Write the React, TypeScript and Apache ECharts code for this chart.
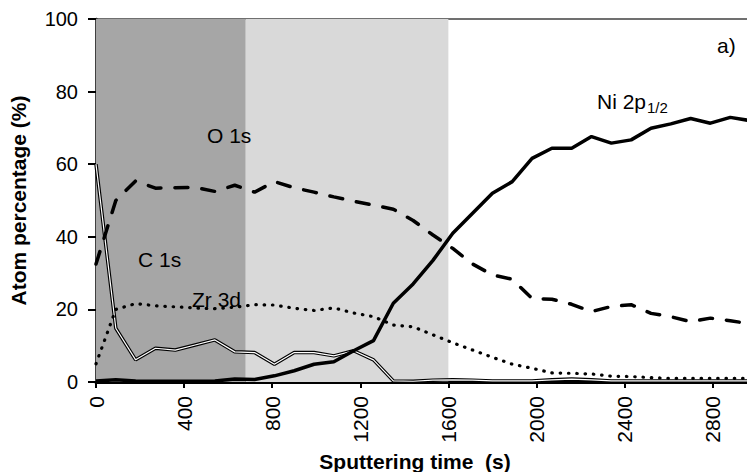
import React, { useEffect, useRef } from "react";
import * as echarts from "echarts";

const times = [0, 90, 180, 270, 360, 450, 540, 630, 720, 810, 900, 990, 1080, 1170, 1260, 1350, 1440, 1530, 1620, 1710, 1800, 1890, 1980, 2070, 2160, 2250, 2340, 2430, 2520, 2610, 2700, 2790, 2880, 2970];

const ni2p = [0.3, 0.6, 0.3, 0.2, 0.2, 0.2, 0.3, 0.8, 0.7, 1.7, 3.1, 4.9, 5.6, 8.6, 11.4, 21.7, 27.0, 33.5, 41.0, 46.5, 52.0, 55.2, 61.6, 64.4, 64.4, 67.6, 65.8, 66.7, 69.9, 71.1, 72.6, 71.3, 72.9, 72.0];
const o1s = [32.5, 50.0, 55.4, 53.4, 53.5, 53.6, 52.5, 54.2, 52.3, 55.2, 53.5, 52.3, 51.0, 49.8, 48.7, 47.6, 44.5, 40.5, 36.8, 32.5, 29.5, 28.3, 23.0, 22.8, 21.4, 19.4, 20.8, 21.3, 18.9, 18.0, 16.6, 17.6, 16.9, 16.0];
const zr3d = [5.0, 20.0, 21.6, 21.0, 20.7, 20.4, 20.2, 20.6, 21.3, 21.2, 20.3, 19.7, 20.4, 19.0, 18.0, 15.7, 15.2, 13.0, 10.8, 8.8, 6.8, 4.9, 3.8, 2.5, 2.4, 2.2, 1.6, 1.5, 1.2, 1.0, 1.0, 1.0, 1.0, 1.0];
const c1s = [60.0, 14.8, 6.1, 9.3, 8.8, 10.2, 11.6, 8.3, 8.1, 4.9, 8.1, 8.1, 7.2, 8.6, 6.1, 0.3, 0.2, 0.5, 0.6, 0.5, 0.3, 0.3, 0.3, 0.6, 0.8, 0.6, 0.3, 0.3, 0.3, 0.3, 0.3, 0.3, 0.3, 0.3];

const darkZone = [0, 680];
const lightZone = [680, 1600];
const yTicks = [0, 20, 40, 60, 80, 100];
const xTickStep = 400;

const FONT = "'Liberation Sans', Arial, sans-serif";

function pairs(vals: number[]) {
  return times.map((t, i) => [t, vals[i]]);
}

export default function App() {
  const ref = useRef<HTMLDivElement>(null);
  useEffect(() => {
    document.body.style.margin = "0";
    const chart = echarts.init(ref.current!, undefined, { renderer: "svg" });
    chart.setOption({
      animation: false,
      backgroundColor: "#ffffff",
      grid: { left: 96, right: 0, top: 19, bottom: 90, containLabel: false, outerBoundsMode: "none" },
      xAxis: [
        {
          type: "value",
          min: 0,
          max: 2956,
          interval: xTickStep,
          position: "bottom",
          name: "Sputtering time  (s)",
          nameLocation: "middle",
          nameGap: 66,
          nameTextStyle: { fontFamily: FONT, fontWeight: "bold", fontSize: 21, color: "#000", padding: [0, 13, 0, 0] },
          axisLine: { show: true, lineStyle: { color: "#000", width: 3 } },
          axisTick: { show: true, inside: false, length: 6, lineStyle: { color: "#000", width: 2 } },
          axisLabel: {
            rotate: 90,
            margin: 14,
            fontFamily: FONT,
            fontSize: 21,
            color: "#000",
            showMaxLabel: false,
            formatter: (v: number) => (v % xTickStep === 0 ? String(v) : ""),
          },
          splitLine: { show: false },
        },
        {
          type: "value",
          min: 0,
          max: 2956,
          position: "top",
          axisLine: { show: true, lineStyle: { color: "#404040", width: 1.5 } },
          axisTick: { show: false },
          axisLabel: { show: false },
          splitLine: { show: false },
        },
      ],
      yAxis: {
        type: "value",
        min: yTicks[0],
        max: yTicks[yTicks.length - 1],
        interval: 20,
        name: "Atom percentage (%)",
        nameLocation: "middle",
        nameGap: 67,
        nameTextStyle: { fontFamily: FONT, fontWeight: "bold", fontSize: 21, color: "#000" },
        axisLine: { show: true, lineStyle: { color: "#000", width: 2.5 } },
        axisTick: { show: true, inside: false, length: 8, lineStyle: { color: "#000", width: 2 } },
        axisLabel: { margin: 18, fontFamily: FONT, fontSize: 20, color: "#000" },
        splitLine: { show: false },
      },
      graphic: [
        { type: "text", x: 207, y: 135, z: 100, style: { text: "O 1s", fontFamily: FONT, fontSize: 21, fill: "#000", align: "left", verticalAlign: "middle" } },
        { type: "text", x: 138, y: 259.5, z: 100, style: { text: "C 1s", fontFamily: FONT, fontSize: 21, fill: "#000", align: "left", verticalAlign: "middle" } },
        { type: "text", x: 192, y: 299, z: 100, style: { text: "Zr 3d", fontFamily: FONT, fontSize: 21, fill: "#000", align: "left", verticalAlign: "middle" } },
        { type: "text", x: 597, y: 101, z: 100, style: { text: "Ni 2p", fontFamily: FONT, fontSize: 21, fill: "#000", align: "left", verticalAlign: "middle" } },
        { type: "text", x: 647, y: 107, z: 100, style: { text: "1/2", fontFamily: FONT, fontSize: 15, fill: "#000", align: "left", verticalAlign: "middle" } },
        { type: "text", x: 717, y: 45.5, z: 100, style: { text: "a)", fontFamily: FONT, fontSize: 21, fill: "#000", align: "left", verticalAlign: "middle" } },
      ],
      series: [
        {
          name: "zones",
          type: "line",
          data: [],
          silent: true,
          markArea: {
            silent: true,
            data: [
              [{ xAxis: darkZone[0], itemStyle: { color: "#a6a6a6" } }, { xAxis: darkZone[1] }],
              [{ xAxis: lightZone[0], itemStyle: { color: "#d9d9d9" } }, { xAxis: lightZone[1] }],
            ],
          },
          z: 1,
        },
        {
          name: "C 1s outer",
          type: "line",
          data: pairs(c1s),
          showSymbol: false,
          symbol: "none",
          lineStyle: { color: "#000", width: 3.5 },
          z: 3,
        },
        {
          name: "C 1s inner",
          type: "line",
          data: pairs(c1s),
          showSymbol: false,
          symbol: "none",
          lineStyle: { color: "#fff", width: 1.2 },
          z: 4,
        },
        {
          name: "Zr 3d",
          type: "line",
          data: pairs(zr3d),
          showSymbol: false,
          symbol: "none",
          lineStyle: { color: "#000", width: 3.2, type: [0.5, 7.8], cap: "round" },
          z: 5,
        },
        {
          name: "O 1s",
          type: "line",
          data: pairs(o1s),
          showSymbol: false,
          symbol: "none",
          lineStyle: { color: "#000", width: 3.5, type: [13, 14], cap: "round" },
          z: 6,
        },
        {
          name: "Ni 2p1/2",
          type: "line",
          data: pairs(ni2p),
          showSymbol: false,
          symbol: "none",
          lineStyle: { color: "#000", width: 3.5 },
          z: 7,
        },
      ],
    });
    return () => chart.dispose();
  }, []);
  return <div ref={ref} style={{ width: 747, height: 472 }} />;
}
